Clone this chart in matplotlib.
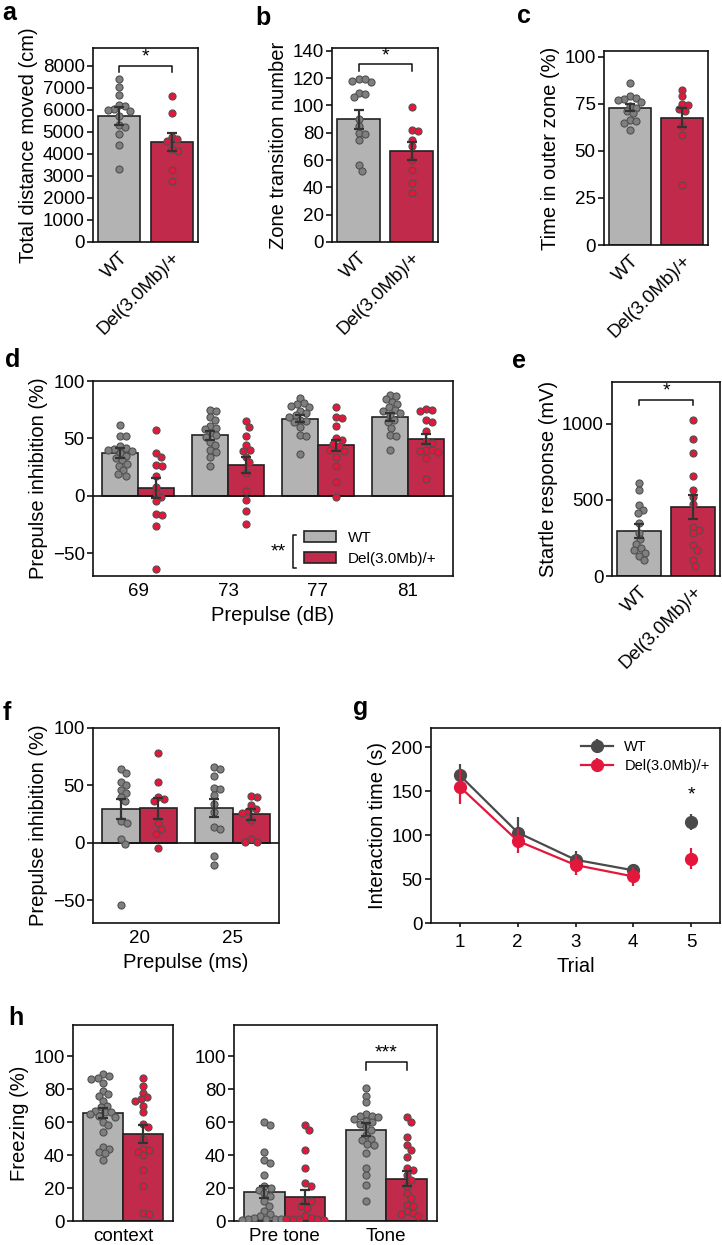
import numpy as np
import matplotlib
matplotlib.use("Agg")
import matplotlib.pyplot as plt
from matplotlib.patches import Patch

plt.rcParams['font.family'] = ['Liberation Sans', 'DejaVu Sans']

# ---------------- data ----------------
groups2 = ['WT', 'Del(3.0Mb)/+']

# a: total distance moved
a_mean = [5720, 4520]
a_sem = [420, 405]
a_wt = [7380, 7030, 6680, 6230, 6150, 6050, 6000, 5950, 5700, 5300, 5200, 4900, 4400, 3300]
a_del = [6620, 5870, 4780, 4650, 4600, 4200, 4150, 3260, 2760]

# b: zone transition number
b_mean = [89.8, 66.8]
b_sem = [6.8, 6.6]
b_wt = [119, 118, 117, 119, 109, 108, 106, 90, 85, 80, 79, 75, 56, 52]
b_del = [99, 82, 81, 75, 70, 60, 53, 43, 36]

# c: time in outer zone
c_mean = [72.9, 67.6]
c_sem = [1.9, 5.0]
c_wt = [86, 79, 78, 77.5, 77, 76, 74, 73, 71, 70, 66.5, 66, 65, 61]
c_del = [82.5, 79, 75, 74.5, 72, 71, 63, 58.5, 32]

# d: prepulse inhibition by dB
d_cats = ['69', '73', '77', '81']
d_wt_mean = [37, 52.6, 67, 68.7]
d_wt_sem = [4.2, 4.0, 3.0, 3.4]
d_del_mean = [6.4, 26.6, 44, 49.7]
d_del_sem = [8.8, 7.0, 5.0, 4.4]
d_wt_pts = [
    [62, 52, 52, 43, 42, 41, 40, 39, 37, 35, 33, 31, 28, 26, 22, 19, 17],
    [75, 74, 69, 66, 61, 59, 58, 55, 53, 51, 47, 44, 40, 38, 34, 26],
    [85, 81, 80, 78, 77, 74, 72, 70, 69, 66, 65, 64, 60, 53, 52, 36],
    [88, 87, 84, 82, 80, 77, 75, 74, 72, 70, 66, 64, 59, 53, 52, 40],
]
d_del_pts = [
    [57, 37, 34, 27, 26, 17, 8, 2, -1, -5, -16, -17, -26, -64],
    [65, 60, 52, 44, 40, 39, 34, 29, 20, 4, -4, -13, -25],
    [77, 69, 68, 61, 50, 49, 45, 43, 40, 39, 34, 26, 12, -1],
    [76, 75, 74, 66, 64, 56, 48, 46, 40, 40, 39, 38, 33, 15],
]

# e: startle response
e_mean = [296, 452]
e_sem = [46, 80]
e_wt = [610, 566, 467, 434, 412, 346, 281, 240, 210, 182, 171, 150, 130, 105]
e_del = [1026, 901, 811, 658, 566, 520, 470, 325, 305, 280, 204, 171, 105, 66]

# f: prepulse inhibition by ms
f_cats = ['20', '25']
f_wt_mean = [29, 30.4]
f_wt_sem = [8.7, 7.7]
f_del_mean = [30, 24.6]
f_del_sem = [9.0, 4.8]
f_wt_pts = [
    [64, 61, 53, 50, 46, 43, 40, 36, 19, 17, 3, -1, -54],
    [66, 64, 58, 48, 47, 42, 34, 27, 14, 12, -12, -19],
]
f_del_pts = [
    [78, 53, 40, 38, 36, 17, 12, 8, -5],
    [41, 40, 33, 29, 28, 26, 20, 3, 1, 0.5],
]

# g: interaction time
g_trials = [1, 2, 3, 4, 5]
g_wt = [168, 103, 72, 60, 115]
g_wt_sem = [13, 18, 10, 7, 9]
g_del = [155, 93.5, 66, 53, 73]
g_del_sem = [20, 14, 11, 11, 12]

# h: freezing
h1_cats = ['context']
h1_wt_mean = [65.5]
h1_wt_sem = [3.0]
h1_del_mean = [52.7]
h1_del_sem = [5.3]
h1_wt_pts = [[89, 88, 87, 86, 84, 79, 77, 76, 73, 70, 69, 67, 66, 66, 65, 64, 63, 60, 58, 54, 45, 44, 42, 41, 37]]
h1_del_pts = [[87, 82, 78, 75, 74, 73, 70, 66, 59, 57, 50, 44, 43, 42, 40, 31, 21, 5, 4]]

h2_cats = ['Pre tone', 'Tone']
h2_wt_mean = [17.6, 55.5]
h2_wt_sem = [3.8, 3.7]
h2_del_mean = [14.6, 25.7]
h2_del_sem = [4.3, 4.4]
h2_wt_pts = [
    [60, 58, 42, 37, 35, 28, 21, 20, 19, 17, 15, 12, 9, 6, 4, 3, 2, 1.5, 1, 1, 1, 0.5],
    [81, 76, 72, 65, 64, 64, 63, 62, 61, 60, 59, 57, 55, 52, 50, 49, 47, 46, 41, 32, 28, 22, 12],
]
h2_del_pts = [
    [58, 55, 43, 32, 23, 21, 12, 12, 9, 8, 3, 2, 1.5, 1, 1, 1, 0.5],
    [63, 60, 51, 46, 43, 39, 32, 31, 28, 25, 21, 17, 14, 10, 9, 6, 5, 4, 3],
]

# ---------------- style ----------------
GRAY_BAR = '#b3b3b3'
RED_BAR = '#c22a4b'
GRAY_PT = '#7f7f7f'
RED_PT = '#e3173c'
PT_EDGE = '#505050'
ERR = '#333333'
G_WT = '#4a4a4a'
G_DEL = '#e3173c'
TICK_FS = 13.5
LAB_FS = 14.5
PT_S = 26

W, H = 722, 1245
fig = plt.figure(figsize=(W / 100, H / 100), dpi=100)


def add_ax(l, t, r, b):
    return fig.add_axes([l / W, 1 - b / H, (r - l) / W, (b - t) / H])


def style(ax):
    for s in ax.spines.values():
        s.set_linewidth(1.2)
        s.set_color('#111111')
    ax.tick_params(axis='y', direction='out', length=4, width=1.1,
                   labelsize=TICK_FS, pad=2)
    ax.tick_params(axis='x', length=0, labelsize=TICK_FS, pad=5)


def swarm_x(ax, xc, vals, diam_px=6.4):
    trans = ax.transData
    vals = np.asarray(vals, dtype=float)
    pts = trans.transform(np.column_stack([np.full(len(vals), xc), vals]))
    ys = pts[:, 1]
    order = np.argsort(-ys)
    placed = []
    offs = np.zeros(len(vals))
    for i in order:
        y = ys[i]
        cands = [0.0]
        for px, py in placed:
            dy = abs(y - py)
            if dy < diam_px:
                dx = np.sqrt(diam_px ** 2 - dy ** 2)
                cands += [px + dx, px - dx]
        cands.sort(key=abs)
        for c in cands:
            if all((c - px) ** 2 + (y - py) ** 2 >= diam_px ** 2 - 1e-6 for px, py in placed):
                offs[i] = c
                break
        placed.append((offs[i], y))
    x0 = trans.transform((xc, 0))[0]
    x1 = trans.transform((xc + 1, 0))[0]
    return xc + offs / (x1 - x0)


def points(ax, xc, vals, color):
    xs = swarm_x(ax, xc, vals)
    ax.scatter(xs, vals, s=PT_S, c=color, edgecolors=PT_EDGE, linewidths=0.8, zorder=3)


def bracket(ax, x1, x2, y, h, text, fs=14):
    ax.plot([x1, x1, x2, x2], [y - h, y, y, y - h], color='#111111', lw=1.1, zorder=5)
    ax.text((x1 + x2) / 2, y, text, ha='center', va='bottom', fontsize=fs)


def two_bar(ax, means, sems, wt, dl, ylim, yticks, ylabel, sig=None):
    ax.set_xlim(-0.5, 1.5)
    ax.set_ylim(*ylim)
    x = np.arange(2)
    ax.bar(x, means, width=0.8, color=[GRAY_BAR, RED_BAR], edgecolor='#222222',
           linewidth=1.2, zorder=2)
    points(ax, 0, wt, GRAY_PT)
    points(ax, 1, dl, RED_PT)
    ax.errorbar(x, means, yerr=sems, fmt='none', ecolor=ERR, elinewidth=1.6,
                capsize=3.5, capthick=1.6, zorder=4)
    ax.set_yticks(yticks)
    ax.set_xticks(x)
    ax.set_xticklabels(groups2, rotation=45, ha='right', va='top',
                       rotation_mode='anchor')
    ax.set_ylabel(ylabel, fontsize=LAB_FS, labelpad=3)
    style(ax)
    if sig is not None:
        bracket(ax, 0, 1, sig[0], sig[1], '*')


def grouped(ax, cats, wm, ws, dm, ds, wp, dp, xlim, ylim, yticks):
    ax.set_xlim(*xlim)
    ax.set_ylim(*ylim)
    x = np.arange(len(cats))
    ax.bar(x - 0.2, wm, width=0.4, color=GRAY_BAR, edgecolor='#222222', linewidth=1.2, zorder=2)
    ax.bar(x + 0.2, dm, width=0.4, color=RED_BAR, edgecolor='#222222', linewidth=1.2, zorder=2)
    for i in range(len(cats)):
        points(ax, x[i] - 0.2, wp[i], GRAY_PT)
        points(ax, x[i] + 0.2, dp[i], RED_PT)
    ax.errorbar(x - 0.2, wm, yerr=ws, fmt='none', ecolor=ERR, elinewidth=1.6,
                capsize=3.5, capthick=1.6, zorder=4)
    ax.errorbar(x + 0.2, dm, yerr=ds, fmt='none', ecolor=ERR, elinewidth=1.6,
                capsize=3.5, capthick=1.6, zorder=4)
    ax.set_xticks(x)
    ax.set_xticklabels(cats)
    ax.set_yticks(yticks)
    style(ax)


# ---------------- panels ----------------
ax_a = add_ax(93, 48, 198, 242)
two_bar(ax_a, a_mean, a_sem, a_wt, a_del, (0, 8800), np.arange(0, 8001, 1000),
        'Total distance moved (cm)', sig=(8000, 300))

ax_b = add_ax(332, 48, 438, 242)
two_bar(ax_b, b_mean, b_sem, b_wt, b_del, (0, 142), np.arange(0, 141, 20),
        'Zone transition number', sig=(130, 5))

ax_c = add_ax(604, 51, 708, 245)
two_bar(ax_c, c_mean, c_sem, c_wt, c_del, (0, 103), [0, 25, 50, 75, 100],
        'Time in outer zone (%)')

ax_d = add_ax(93, 381, 453, 576)
grouped(ax_d, d_cats, d_wt_mean, d_wt_sem, d_del_mean, d_del_sem, d_wt_pts, d_del_pts,
        (-0.5, 3.5), (-70, 100), [-50, 0, 50, 100])
ax_d.axhline(0, color='#111111', lw=1.2, zorder=2.5)
ax_d.set_xlabel('Prepulse (dB)', fontsize=LAB_FS, labelpad=4)
ax_d.set_ylabel('Prepulse inhibition (%)', fontsize=LAB_FS, labelpad=3)
leg = ax_d.legend([Patch(facecolor=GRAY_BAR, edgecolor='#222222', lw=1.2),
                   Patch(facecolor=RED_BAR, edgecolor='#222222', lw=1.2)],
                  groups2, loc='lower left', bbox_to_anchor=(0.56, 0.005),
                  frameon=False, fontsize=11, handlelength=2.1, handleheight=0.75,
                  labelspacing=0.45, handletextpad=0.8, borderaxespad=0.2)
ax_d.plot([0.565, 0.556, 0.556, 0.565], [0.21, 0.21, 0.041, 0.041],
          transform=ax_d.transAxes, color='#111111', lw=1.1)
ax_d.text(0.515, 0.125, '**', transform=ax_d.transAxes, ha='center', va='center',
          fontsize=14)

ax_e = add_ax(612, 382, 720, 576)
two_bar(ax_e, e_mean, e_sem, e_wt, e_del, (0, 1275), [0, 500, 1000],
        'Startle response (mV)', sig=(1158, 35))

ax_f = add_ax(93, 728, 279, 923)
grouped(ax_f, f_cats, f_wt_mean, f_wt_sem, f_del_mean, f_del_sem, f_wt_pts, f_del_pts,
        (-0.5, 1.5), (-70, 100), [-50, 0, 50, 100])
ax_f.axhline(0, color='#111111', lw=1.2, zorder=2.5)
ax_f.set_xlabel('Prepulse (ms)', fontsize=LAB_FS, labelpad=4)
ax_f.set_ylabel('Prepulse inhibition (%)', fontsize=LAB_FS, labelpad=3)

ax_g = add_ax(431, 728, 720, 923)
ax_g.set_xlim(0.5, 5.5)
ax_g.set_ylim(0, 222)
ax_g.errorbar(g_trials[:4], g_wt[:4], yerr=g_wt_sem[:4], color=G_WT, marker='o',
              markersize=8.5, lw=1.6, elinewidth=1.6, capsize=0, label='WT', zorder=3)
ax_g.errorbar(g_trials[4:], g_wt[4:], yerr=g_wt_sem[4:], color=G_WT, marker='o',
              markersize=8.5, ls='none', elinewidth=1.6, capsize=0, zorder=3)
ax_g.errorbar(g_trials[:4], g_del[:4], yerr=g_del_sem[:4], color=G_DEL, marker='o',
              markersize=8.5, lw=1.6, elinewidth=1.6, capsize=0, label='Del(3.0Mb)/+', zorder=4)
ax_g.errorbar(g_trials[4:], g_del[4:], yerr=g_del_sem[4:], color=G_DEL, marker='o',
              markersize=8.5, ls='none', elinewidth=1.6, capsize=0, zorder=4)
ax_g.text(5, 136, '*', ha='center', va='bottom', fontsize=14)
ax_g.set_xticks(g_trials)
ax_g.set_yticks([0, 50, 100, 150, 200])
ax_g.set_xlabel('Trial', fontsize=LAB_FS, labelpad=4)
ax_g.set_ylabel('Interaction time (s)', fontsize=LAB_FS, labelpad=3)
style(ax_g)
ax_g.tick_params(axis='x', length=3, width=1.1, direction='out')
ax_g.legend(loc='upper right', bbox_to_anchor=(1.0, 0.99), frameon=False, fontsize=10.5,
            handlelength=2.2, labelspacing=0.35, handletextpad=0.8, borderaxespad=0.3)

ax_h1 = add_ax(73, 1025, 173, 1221)
grouped(ax_h1, h1_cats, h1_wt_mean, h1_wt_sem, h1_del_mean, h1_del_sem, h1_wt_pts, h1_del_pts,
        (-0.5, 0.5), (0, 119), np.arange(0, 101, 20))
ax_h1.set_ylabel('Freezing (%)', fontsize=LAB_FS, labelpad=3)

ax_h2 = add_ax(234, 1025, 437, 1221)
grouped(ax_h2, h2_cats, h2_wt_mean, h2_wt_sem, h2_del_mean, h2_del_sem, h2_wt_pts, h2_del_pts,
        (-0.5, 1.5), (0, 119), np.arange(0, 101, 20))
bracket(ax_h2, 0.8, 1.2, 96.6, 5, '***')

# panel letters
for lab, x, y in [('a', 2, 20), ('b', 255, 25), ('c', 517, 23), ('d', 5, 367),
                  ('e', 512, 368), ('f', 3, 720), ('g', 353, 715), ('h', 8, 1025)]:
    fig.text(x / W, 1 - y / H, lab, fontsize=18, fontweight='bold', ha='left',
             va='baseline')

fig.savefig('out.png', dpi=100)
